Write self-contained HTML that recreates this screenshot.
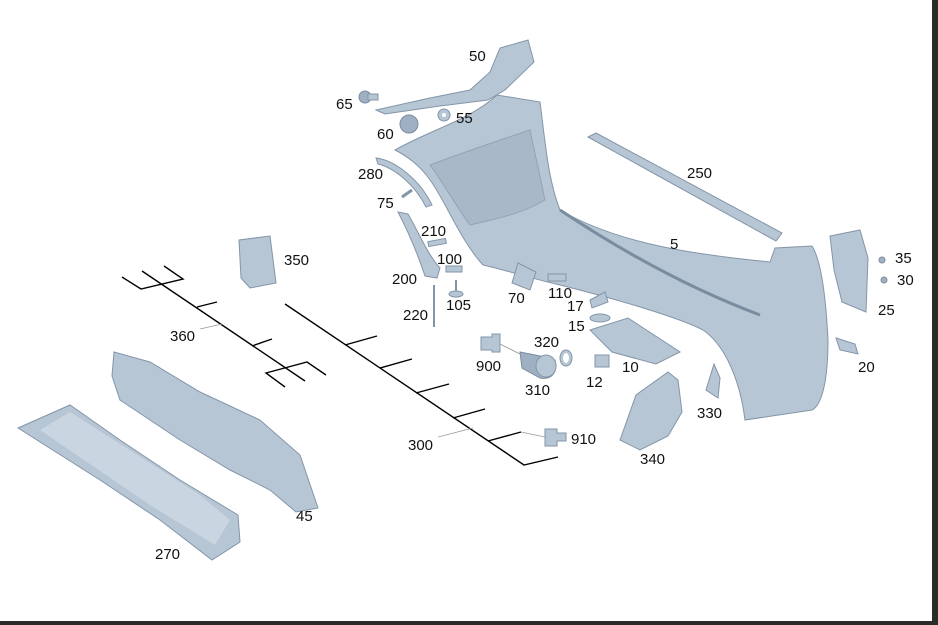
<!DOCTYPE html>
<html><head><meta charset="utf-8"><style>
html,body{margin:0;padding:0;background:#fff}
svg{display:block}
text{font-family:"Liberation Sans",sans-serif;font-size:15px;fill:#111}
.p{fill:#b7c6d5;stroke:#8395a8;stroke-width:1}
.d{fill:#9fb0c2;stroke:#7a8ca0;stroke-width:1}
.w{stroke:#000;stroke-width:1.4;fill:none}
.l{stroke:#999;stroke-width:0.8;fill:none}
</style></head><body>
<svg width="938" height="625" viewBox="0 0 938 625" xmlns="http://www.w3.org/2000/svg">
<rect width="938" height="625" fill="#fff"/>
<rect x="932" y="0" width="6" height="625" fill="#2a2a2a"/>
<rect x="0" y="621" width="938" height="4" fill="#2a2a2a"/>

<!-- 50 bracket -->
<polygon class="p" points="376,110 430,98 470,90 490,72 500,48 528,40 534,62 505,90 488,100 440,106 385,114"/>
<!-- 65 -->
<circle class="d" cx="365" cy="97" r="6"/><rect class="p" x="368" y="94" width="10" height="6"/>
<!-- 60 -->
<circle class="d" cx="409" cy="124" r="9"/>
<!-- 55 -->
<circle class="p" cx="444" cy="115" r="6"/><circle fill="#fff" cx="444" cy="115" r="2"/>

<!-- main bumper 5 -->
<path class="p" d="M395,150 C430,130 470,120 497,95 L540,102 C545,140 548,180 560,210 C620,245 700,255 770,262 L775,248 L812,246 C822,262 826,300 828,340 C828,380 822,405 812,410 L745,420 C740,380 725,345 703,330 C680,318 620,300 560,285 C530,278 505,270 483,265 C460,240 445,200 430,180 C420,165 405,155 395,150 Z"/>
<path class="d" d="M430,165 C470,150 500,140 530,130 L545,200 C520,215 490,220 470,225 C455,205 445,185 430,165Z" opacity="0.6"/>
<path d="M560,210 C650,270 720,300 760,315" stroke="#7a8ca0" stroke-width="3" fill="none"/>
<!-- 250 strip -->
<polygon class="p" points="588,137 596,133 782,233 776,241"/>
<!-- 280 -->
<path class="p" d="M376,158 C395,160 420,180 432,205 L426,207 C415,185 395,168 378,164Z"/>
<!-- 75 -->
<line x1="402" y1="197" x2="412" y2="190" stroke="#8395a8" stroke-width="3"/>
<!-- 200 -->
<path class="p" d="M398,212 L408,214 C420,235 428,255 440,268 L437,278 L425,276 C418,255 410,235 398,212Z"/>
<!-- 210,100 -->
<rect class="p" x="428" y="240" width="18" height="5" transform="rotate(-10 437 242)"/>
<rect class="p" x="446" y="266" width="16" height="6"/>
<!-- 105 -->
<line x1="456" y1="280" x2="456" y2="292" stroke="#8395a8" stroke-width="2"/><ellipse class="p" cx="456" cy="294" rx="7" ry="3"/>
<!-- 220 -->
<line x1="434" y1="285" x2="434" y2="327" stroke="#8395a8" stroke-width="2"/>
<!-- 70 -->
<polygon class="p" points="518,263 536,272 530,290 512,283"/>
<!-- 110 -->
<rect class="p" x="548" y="274" width="18" height="7"/>
<!-- 17 -->
<polygon class="p" points="590,300 605,292 608,302 592,308"/>
<!-- 15 -->
<ellipse class="p" cx="600" cy="318" rx="10" ry="4"/>
<!-- 10 -->
<polygon class="p" points="590,330 628,318 680,352 656,364 612,352"/>
<!-- 12 -->
<rect class="p" x="595" y="355" width="14" height="12"/>
<!-- 900 -->
<polygon class="p" points="481,337 492,337 492,334 500,334 500,352 492,352 492,350 481,350"/>
<line class="l" x1="500" y1="344" x2="522" y2="355"/>
<!-- 310 -->
<path class="d" d="M520,352 L540,356 L555,360 C558,372 552,380 540,378 L522,368Z"/>
<ellipse class="p" cx="546" cy="366" rx="10" ry="11"/>
<!-- 320 -->
<ellipse class="p" cx="566" cy="358" rx="6" ry="8"/><ellipse fill="#fff" cx="566" cy="358" rx="3" ry="5"/>
<!-- 340 -->
<polygon class="p" points="620,440 636,395 668,372 678,380 682,412 668,436 640,450"/>
<!-- 330 -->
<polygon class="p" points="706,390 714,364 720,378 718,398"/>
<!-- 25 -->
<polygon class="p" points="830,236 860,230 868,258 866,312 842,302 834,270"/>
<!-- 35,30 -->
<circle class="d" cx="882" cy="260" r="3"/><circle class="d" cx="884" cy="280" r="3"/>
<!-- 20 -->
<polygon class="p" points="836,338 855,344 858,354 840,350"/>
<!-- 910 -->
<polygon class="p" points="545,429 557,429 557,433 566,433 566,441 557,441 557,446 545,446"/>

<!-- 350 -->
<polygon class="p" points="239,240 270,236 276,283 250,288 241,278"/>

<!-- 45 absorber -->
<polygon class="p" points="114,352 150,362 200,392 260,420 300,455 318,508 296,512 270,490 230,470 180,440 150,420 120,400 112,376"/>
<!-- 270 -->
<polygon class="p" points="18,428 70,405 120,440 180,480 238,515 240,542 212,560 160,520 100,480"/>
<polygon fill="#c9d5e0" points="40,430 70,412 200,495 230,520 215,545 150,505"/>

<!-- harness 360 -->
<polyline class="w" points="122,277 141,289 183,279 164,266"/>
<line class="w" x1="142" y1="271" x2="305" y2="381"/>
<line class="w" x1="197" y1="307" x2="217" y2="302"/>
<line class="w" x1="252" y1="346" x2="272" y2="339"/>
<polyline class="w" points="285,387 266,373 307,362 326,375"/>
<line class="l" x1="200" y1="329" x2="222" y2="324"/>
<!-- harness 300 -->
<polyline class="w" points="285,304 524,465 558,457"/>
<line class="w" x1="345" y1="345" x2="377" y2="336"/>
<line class="w" x1="380" y1="368" x2="412" y2="359"/>
<line class="w" x1="416" y1="393" x2="449" y2="384"/>
<line class="w" x1="453" y1="418" x2="485" y2="409"/>
<line class="w" x1="488" y1="441" x2="521" y2="432"/>
<line class="l" x1="521" y1="432" x2="545" y2="437"/>
<line class="l" x1="438" y1="437" x2="473" y2="428"/>

<text x="469" y="61">50</text>
<text x="336" y="109">65</text>
<text x="377" y="139">60</text>
<text x="456" y="123">55</text>
<text x="358" y="179">280</text>
<text x="687" y="178">250</text>
<text x="377" y="208">75</text>
<text x="421" y="236">210</text>
<text x="670" y="249">5</text>
<text x="437" y="264">100</text>
<text x="284" y="265">350</text>
<text x="895" y="263">35</text>
<text x="897" y="285">30</text>
<text x="392" y="284">200</text>
<text x="508" y="303">70</text>
<text x="548" y="298">110</text>
<text x="567" y="311">17</text>
<text x="446" y="310">105</text>
<text x="878" y="315">25</text>
<text x="403" y="320">220</text>
<text x="568" y="331">15</text>
<text x="534" y="347">320</text>
<text x="170" y="341">360</text>
<text x="622" y="372">10</text>
<text x="476" y="371">900</text>
<text x="858" y="372">20</text>
<text x="586" y="387">12</text>
<text x="525" y="395">310</text>
<text x="697" y="418">330</text>
<text x="571" y="444">910</text>
<text x="408" y="450">300</text>
<text x="640" y="464">340</text>
<text x="296" y="521">45</text>
<text x="155" y="559">270</text>
</svg>
</body></html>
